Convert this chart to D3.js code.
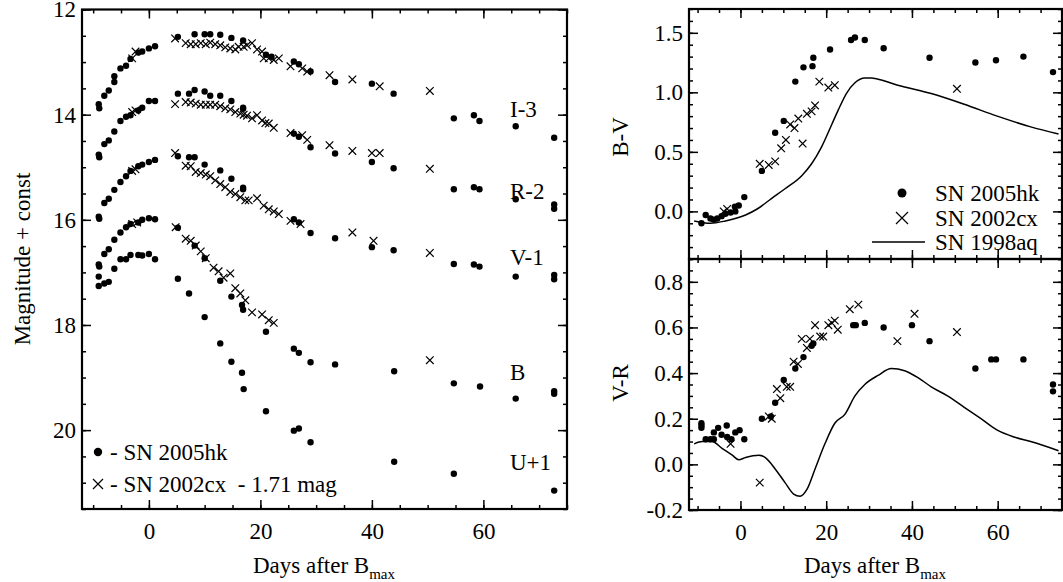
<!DOCTYPE html>
<meta charset="utf-8">
<style>
  body { margin: 0; background: #fff; }
  svg text { font-family: "Liberation Serif", "Times New Roman", Times, serif !important; fill: #000; }
  .domain { display: none; }
  .tick line { stroke: #000; stroke-width: 1.5; }
</style>
<svg width="1063" height="582"></svg>
<script src="https://d3js.org/d3.v7.min.js"></script>
<script>
// light curves: [day after B max, plotted magnitude]
var hkI = [[-9,13.80],[-8.9,13.88],[-8,13.64],[-7.2,13.54],[-6.2,13.38],[-6.2,13.27],[-5.1,13.12],[-4.1,13.07],[-3.3,12.94],[-1.9,12.82],[-1.2,12.80],[0,12.74],[1.1,12.70],[5.2,12.52],[8.2,12.47],[10,12.47],[11,12.47],[12.8,12.48],[14.8,12.54],[16.9,12.59],[21,12.86],[22,12.90],[26,12.99],[26.9,13.04],[29,13.18],[33.4,13.38],[40,13.41],[43.9,13.60],[54.7,14.07],[58.3,14.01],[59.3,14.12],[65.8,14.22],[72.7,14.44]];
var hkR = [[-9,14.76],[-8.9,14.81],[-8,14.56],[-7.2,14.49],[-6.2,14.32],[-5.1,14.12],[-4.1,14.04],[-3.3,14.01],[-1.9,13.92],[-1.2,13.87],[0,13.74],[1.1,13.74],[5.2,13.60],[7.2,13.60],[8.2,13.53],[10,13.56],[11,13.64],[12.8,13.64],[14.8,13.74],[16.9,13.87],[16.9,13.89],[26,14.36],[26.9,14.42],[29,14.62],[33.4,14.74],[40,14.90],[43.9,15.02],[54.7,15.42],[58.3,15.38],[59.3,15.42],[65.8,15.61],[72.7,15.71],[72.7,15.79]];
var hkV = [[-9,15.94],[-8.9,15.98],[-8,15.68],[-7.2,15.60],[-6.2,15.43],[-5.1,15.28],[-4.1,15.17],[-3.3,15.07],[-1.9,14.98],[-1.2,14.95],[0,14.90],[1.1,14.86],[5.2,14.79],[7.2,14.81],[8.2,14.81],[10,14.95],[12.8,15.06],[14.8,15.22],[16.9,15.39],[16.9,15.42],[26,15.99],[26.9,16.05],[29,16.25],[33.4,16.35],[40,16.52],[43.9,16.58],[54.7,16.84],[58.3,16.85],[59.3,16.89],[65.8,17.08],[72.7,17.05],[72.7,17.13]];
var hkB = [[-9,16.85],[-8.9,16.89],[-8,16.65],[-7.2,16.56],[-6.2,16.38],[-5.1,16.24],[-4.1,16.14],[-3.3,16.08],[-1.9,16.05],[-1.2,16.00],[0,15.97],[1.1,15.99],[5.2,16.15],[8.2,16.49],[10,16.73],[12.8,17.16],[14.8,17.46],[16.7,17.62],[16.9,17.71],[21,18.13],[26,18.45],[26.9,18.53],[29,18.71],[33.4,18.75],[44,18.88],[54.7,19.11],[59.4,19.17],[65.8,19.40],[72.7,19.26],[72.7,19.31]];
var hkU = [[-9,17.08],[-9,17.26],[-8,17.21],[-7.2,17.18],[-6.2,16.93],[-5.1,16.75],[-4.1,16.75],[-3.3,16.67],[-1.9,16.67],[-1.2,16.68],[0,16.65],[1.1,16.75],[5.2,17.12],[7.2,17.40],[10,17.85],[12.8,18.35],[14.8,18.70],[16.7,18.91],[17,19.22],[21,19.64],[26,20.01],[26.9,19.97],[29,20.23],[44,20.60],[54.7,20.83],[72.7,21.15]];
var cxI = [[-3,12.93],[-2.4,12.80],[4.7,12.55],[6.6,12.64],[7.5,12.66],[8.4,12.66],[9.3,12.64],[10.2,12.66],[11,12.63],[11.9,12.66],[12.8,12.68],[13.7,12.72],[14.6,12.74],[15.5,12.76],[16.1,12.71],[17,12.71],[17.6,12.68],[18.5,12.64],[19.4,12.76],[20.3,12.80],[20.6,12.93],[21.5,12.93],[22.4,12.96],[23.3,12.93],[25.4,13.08],[27.5,13.12],[28.4,13.18],[32.4,13.25],[36.5,13.33],[41.4,13.46],[50.4,13.55]];
var cxR = [[-3,13.95],[-2.4,13.92],[4.7,13.80],[6.6,13.76],[7.5,13.77],[8.4,13.79],[9.3,13.81],[10.2,13.81],[11,13.81],[11.9,13.81],[12.8,13.84],[13.7,13.88],[14.6,13.90],[15.5,13.95],[16.4,13.98],[17,14.00],[17.6,14.02],[18.5,14.07],[19.4,14.01],[20.3,14.11],[20.9,14.16],[21.5,14.17],[22.4,14.25],[25.4,14.35],[27.5,14.39],[28.4,14.48],[32.4,14.58],[36.5,14.69],[40,14.73],[41.4,14.73],[50.4,15.03]];
var cxV = [[-3,15.07],[-2.4,15.04],[4.7,14.73],[6.6,14.97],[7.5,14.98],[8.4,15.09],[9.3,15.11],[10.2,15.14],[11,15.17],[11.9,15.25],[12.8,15.32],[13.7,15.38],[14.6,15.47],[15.5,15.51],[16.4,15.57],[17.3,15.63],[17.9,15.63],[19.4,15.59],[20.6,15.73],[21.5,15.80],[22.4,15.84],[23.3,15.89],[25.4,16.02],[27.2,16.08],[36.5,16.24],[40.3,16.40],[50.4,16.63]];
var cxB = [[-3,16.08],[-2.1,16.05],[4.8,16.14],[6.6,16.36],[7.5,16.40],[8.4,16.49],[9.3,16.60],[10.2,16.73],[11.6,16.91],[12.5,16.98],[13.4,17.10],[14.6,17.02],[15.5,17.30],[16.4,17.40],[17.3,17.53],[18.5,17.76],[20.3,17.80],[21.5,17.91],[22.4,17.96],[50.4,18.67]];

// colours: [day, value]
var hkBV = [[-9.1,-0.10],[-8.1,-0.03],[-7,-0.06],[-6.2,-0.07],[-5.4,-0.06],[-4.4,-0.04],[-3.5,-0.02],[-2.3,-0.01],[-1.2,0.0],[-1.3,0.04],[-0.4,0.05],[0.9,0.12],[5,0.34],[8.1,0.66],[10.1,0.76],[12.8,1.09],[14.7,1.21],[16.8,1.22],[17,1.29],[20.9,1.36],[25.8,1.44],[26.7,1.46],[29,1.44],[33.4,1.37],[44.1,1.29],[54.8,1.25],[59.6,1.27],[66,1.30],[72.9,1.17]];
var cxBV = [[-3.9,0.0],[-3.1,0.02],[4.5,0.40],[6.6,0.39],[8.1,0.42],[9.5,0.53],[10.6,0.60],[11.6,0.73],[12.6,0.70],[13.5,0.78],[14.5,0.57],[15.5,0.82],[16.6,0.84],[17.4,0.89],[18.4,1.09],[20.5,1.04],[22,1.06],[50.5,1.03]];
var aqBV = [[-10.8,-0.08],[-7,-0.10],[-3.5,-0.08],[1.2,-0.03],[3.9,0.02],[7.3,0.11],[10.4,0.19],[14.3,0.30],[16.6,0.40],[18.9,0.54],[21.3,0.73],[22.8,0.85],[24.7,0.99],[26.7,1.08],[29,1.12],[30.5,1.12],[32.1,1.11],[36.7,1.06],[44.5,0.99],[52.2,0.90],[59.9,0.80],[67.7,0.71],[74.2,0.65]];
var hkVR = [[-9.1,0.18],[-9.1,0.17],[-9.1,0.16],[-8.1,0.11],[-7,0.11],[-6.2,0.11],[-6.2,0.14],[-5.2,0.16],[-4.4,0.13],[-3.2,0.17],[-3.1,0.12],[-2.1,0.11],[-1.2,0.14],[-0.2,0.15],[0.9,0.11],[5,0.20],[7.1,0.21],[8.1,0.27],[10.1,0.37],[12.8,0.42],[14.7,0.47],[16.6,0.52],[17,0.53],[26.3,0.61],[26.9,0.61],[29,0.62],[33.4,0.60],[40,0.61],[44.1,0.54],[54.8,0.42],[58.5,0.46],[59.6,0.46],[66,0.46],[72.9,0.35],[72.9,0.32]];
var cxVR = [[-2.3,0.09],[4.5,-0.08],[6.6,0.21],[7.3,0.20],[8.5,0.33],[9.3,0.29],[10.8,0.34],[11.6,0.34],[12.4,0.45],[13.4,0.44],[14.3,0.55],[15.5,0.51],[16.2,0.55],[17.4,0.61],[18.6,0.56],[19.3,0.56],[20.5,0.61],[21.3,0.62],[22,0.63],[22.7,0.59],[25.5,0.68],[27.5,0.70],[36.6,0.54],[40.6,0.66],[50.5,0.58]];
var aqVR = [[-10.8,0.09],[-8.9,0.10],[-6.6,0.10],[-4.3,0.07],[-1.9,0.04],[-0.4,0.02],[1.2,0.03],[4.3,0.04],[5.8,0.03],[8.1,-0.02],[10.4,-0.08],[12.4,-0.13],[13.9,-0.14],[15.5,-0.11],[17.4,-0.02],[19.7,0.09],[22,0.18],[24.4,0.22],[26.7,0.30],[29,0.35],[32.1,0.39],[35.2,0.42],[38.3,0.41],[41.4,0.38],[44.5,0.34],[48.3,0.30],[52.2,0.25],[56.1,0.20],[59.9,0.15],[63.8,0.12],[67.7,0.10],[74.2,0.06]];

var bandLabels = [["I-3",13.9],["R-2",15.45],["V-1",16.7],["B",18.9],["U+1",20.6]];

var svg = d3.select("svg");
var FS = 23;
var SERIF = '"Liberation Serif", "Times New Roman", Times, serif';
var fmt1 = function(v) { return d3.format(".1f")(v).replace("\u2212", "-"); };

function dots(g, x, y, data, r) {
  g.selectAll(null).data(data).enter().append("circle")
    .attr("cx", function(d) { return x(d[0]); })
    .attr("cy", function(d) { return y(d[1]); })
    .attr("r", r || 3.2);
}
function crosses(g, x, y, data, s) {
  s = s || 3.8;
  g.selectAll(null).data(data).enter().append("path")
    .attr("d", function(d) {
      var cx = x(d[0]), cy = y(d[1]);
      return "M" + (cx - s) + "," + (cy - s) + "L" + (cx + s) + "," + (cy + s) +
             "M" + (cx - s) + "," + (cy + s) + "L" + (cx + s) + "," + (cy - s);
    })
    .attr("stroke", "#000").attr("stroke-width", 1.2).attr("fill", "none");
}

// draws frame + inward ticks
function frame(x, y, yMajor, yMinor, yFmt, xLabels) {
  var x0 = x.range()[0], x1 = x.range()[1];
  var y0 = d3.min(y.range()), y1 = d3.max(y.range());
  var g = svg.append("g");
  var xMaj = d3.range(0, 61, 20), xMin = d3.range(-10, 76, 5);
  var yMaj = d3.range(yMajor[0], yMajor[1] + 1e-9, yMajor[2]);
  var yMin = d3.range(yMinor[0], yMinor[1] + 1e-9, yMinor[2]);
  function ax(axis, tr) { g.append("g").attr("transform", tr).call(axis).attr("font-family", SERIF); }
  ax(d3.axisBottom(x).tickValues(xMin).tickSize(-4).tickFormat(""), "translate(0," + y1 + ")");
  ax(d3.axisBottom(x).tickValues(xMaj).tickSize(-9).tickPadding(14).tickFormat(xLabels ? d3.format("d") : ""), "translate(0," + y1 + ")");
  ax(d3.axisTop(x).tickValues(xMin).tickSize(-4).tickFormat(""), "translate(0," + y0 + ")");
  ax(d3.axisTop(x).tickValues(xMaj).tickSize(-9).tickFormat(""), "translate(0," + y0 + ")");
  ax(d3.axisLeft(y).tickValues(yMin).tickSize(-4).tickFormat(""), "translate(" + x0 + ",0)");
  ax(d3.axisLeft(y).tickValues(yMaj).tickSize(-9).tickPadding(6).tickFormat(yFmt), "translate(" + x0 + ",0)");
  ax(d3.axisRight(y).tickValues(yMin).tickSize(-4).tickFormat(""), "translate(" + x1 + ",0)");
  ax(d3.axisRight(y).tickValues(yMaj).tickSize(-9).tickFormat(""), "translate(" + x1 + ",0)");
  g.selectAll("text").style("font-size", FS + "px");
  g.append("rect").attr("x", x0).attr("y", y0).attr("width", x1 - x0).attr("height", y1 - y0)
    .attr("fill", "none").attr("stroke", "#000").attr("stroke-width", 2.2);
  return g;
}

function xTitle(cx) {
  var t = svg.append("text").attr("x", cx).attr("y", 573).attr("text-anchor", "middle")
    .style("font-size", FS + "px").text("Days after B");
  t.append("tspan").attr("dy", 6).style("font-size", "15px").text("max");
}
function yTitle(x, cy, s) {
  svg.append("text").attr("transform", "translate(" + x + "," + cy + ") rotate(-90)")
    .attr("text-anchor", "middle").style("font-size", FS + "px").text(s);
}

// ---- left panel: light curves
var xL = d3.scaleLinear().domain([-12, 75]).range([82, 567]);
var yL = d3.scaleLinear().domain([12, 21.5]).range([9.5, 509]);
var gL = frame(xL, yL, [12, 20, 2], [12, 21.5, 0.5], d3.format("d"), true);
[hkI, hkR, hkV, hkB, hkU].forEach(function(d) { dots(gL, xL, yL, d); });
[cxI, cxR, cxV, cxB].forEach(function(d) { crosses(gL, xL, yL, d); });
gL.selectAll(null).data(bandLabels).enter().append("text")
  .attr("x", 510).attr("y", function(d) { return yL(d[1]) + 8; })
  .style("font-size", FS + "px").text(function(d) { return d[0]; });
dots(gL, function() { return 98; }, function() { return 452; }, [[0, 0]], 4.2);
gL.append("text").attr("x", 110).attr("y", 460).style("font-size", FS + "px").text("- SN 2005hk");
crosses(gL, function() { return 98; }, function() { return 484; }, [[0, 0]], 5);
gL.append("text").attr("x", 110).attr("y", 492).style("font-size", FS + "px")
  .style("white-space", "pre").text("- SN 2002cx  - 1.71 mag");
xTitle(324);
yTitle(30, 259, "Magnitude + const");

// ---- right top: B-V
var xR = d3.scaleLinear().domain([-12, 75]).range([689, 1062]);
var yBV = d3.scaleLinear().domain([-0.4, 1.7]).range([259, 9]);
var gBV = frame(xR, yBV, [0, 1.5, 0.5], [-0.4, 1.7, 0.1], fmt1, false);
var line = function(x, y) { return d3.line().x(function(d) { return x(d[0]); }).y(function(d) { return y(d[1]); }).curve(d3.curveMonotoneX); };
gBV.append("path").datum(aqBV).attr("d", line(xR, yBV)).attr("fill", "none").attr("stroke", "#000").attr("stroke-width", 1.5);
dots(gBV, xR, yBV, hkBV);
crosses(gBV, xR, yBV, cxBV);
dots(gBV, function() { return 902; }, function() { return 193; }, [[0, 0]], 4.5);
crosses(gBV, function() { return 902; }, function() { return 218; }, [[0, 0]], 6);
gBV.append("line").attr("x1", 872).attr("x2", 925).attr("y1", 242).attr("y2", 242).attr("stroke", "#000").attr("stroke-width", 1.5);
[["SN 2005hk", 201], ["SN 2002cx", 226], ["SN 1998aq", 250]].forEach(function(d) {
  gBV.append("text").attr("x", 935).attr("y", d[1]).style("font-size", FS + "px").text(d[0]);
});
yTitle(628, 137, "B-V");

// ---- right bottom: V-R
var yVR = d3.scaleLinear().domain([-0.2, 0.9]).range([510, 259]);
var gVR = frame(xR, yVR, [-0.2, 0.8, 0.2], [-0.2, 0.9, 0.05], fmt1, true);
gVR.append("path").datum(aqVR).attr("d", line(xR, yVR)).attr("fill", "none").attr("stroke", "#000").attr("stroke-width", 1.5);
dots(gVR, xR, yVR, hkVR);
crosses(gVR, xR, yVR, cxVR);
yTitle(628, 383, "V-R");
xTitle(875);
</script>
